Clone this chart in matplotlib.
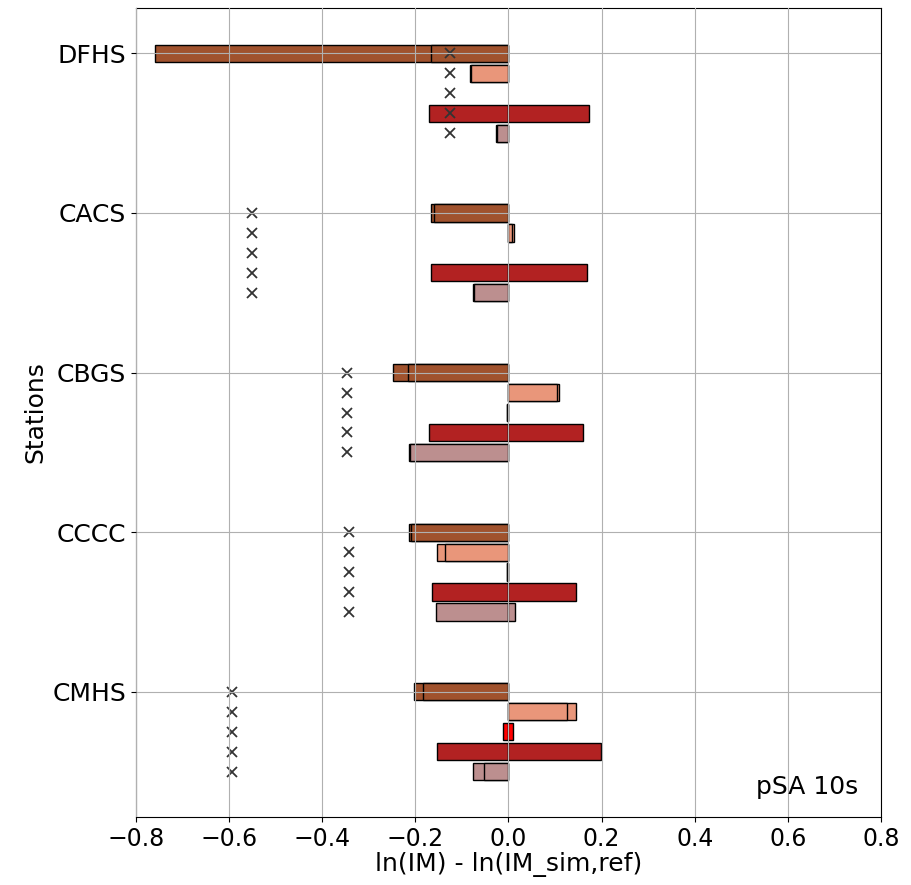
import numpy as np
import matplotlib
matplotlib.use("Agg")
import matplotlib.pyplot as plt

stations = ["DFHS", "CACS", "CBGS", "CCCC", "CMHS"]
colors = ["#A0522D", "#E9967A", "#FF0000", "#B22222", "#BC8F8F"]

# two overlapping values per sub-bar (rows: stations, cols: 5 sub-bars)
values_a = [
    [-0.760, -0.083, np.nan, -0.171, -0.027],
    [-0.167, 0.012, np.nan, -0.167, -0.076],
    [-0.249, 0.109, -0.004, -0.170, -0.213],
    [-0.213, -0.153, -0.004, -0.164, -0.156],
    [-0.204, 0.146, -0.011, -0.154, -0.076],
]
values_b = [
    [-0.167, -0.080, np.nan, 0.172, -0.025],
    [-0.161, 0.008, np.nan, 0.169, -0.074],
    [-0.216, 0.105, -0.004, 0.161, -0.211],
    [-0.210, -0.136, -0.004, 0.146, 0.015],
    [-0.184, 0.125, 0.009, 0.199, -0.053],
]
marker_x = [-0.1256, -0.5516, -0.3475, -0.3425, -0.5945]

fig = plt.figure(figsize=(9.12, 8.85), dpi=100)
ax = fig.add_axes([136/912, 1-817/885, (881-136)/912, (817-8)/885])

step = 0.125
h = 0.108
for i, st in enumerate(stations):
    for k in range(5):
        y = i + k*step
        ax.barh(y, values_a[i][k], height=h, color=colors[k], edgecolor="k", linewidth=1.0)
        ax.barh(y, values_b[i][k], height=h, color=colors[k], edgecolor="k", linewidth=1.0)
        ax.plot(marker_x[i], y, marker="x", color="#333333", markersize=7, mew=1.3, linestyle="none")

ax.set_yticks(range(len(stations)))
ax.set_yticklabels(stations, fontsize=18)
ax.invert_yaxis()
ax.set_xlim(-0.8, 0.8)
ax.set_xticks(np.arange(-0.8, 0.81, 0.2))
ax.tick_params(axis="x", labelsize=17)
ax.set_xlabel("ln(IM) - ln(IM_sim,ref)", fontsize=18, labelpad=1)
ax.set_ylabel("Stations", fontsize=18)
ax.grid(True, color="#b0b0b0", linewidth=0.8)
ax.set_axisbelow(False)
ax.text(0.97, 0.022, "pSA 10s", transform=ax.transAxes, ha="right", va="bottom", fontsize=18)

fig.savefig("out.png", dpi=100)
